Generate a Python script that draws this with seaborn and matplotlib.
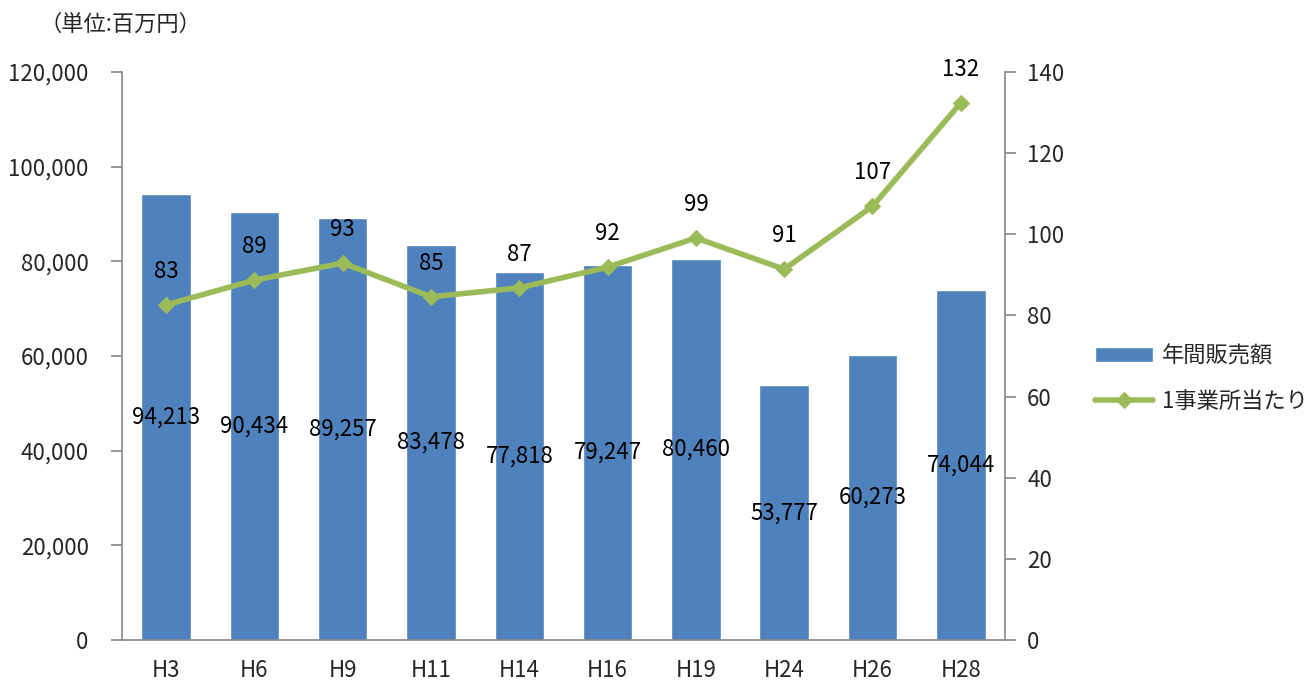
import numpy as np
import pandas as pd
import matplotlib
matplotlib.use('Agg')
import matplotlib.pyplot as plt
import seaborn as sns

# data
periods = ['H3', 'H6', 'H9', 'H11', 'H14', 'H16', 'H19', 'H24', 'H26', 'H28']
annual_sales = [94213, 90434, 89257, 83478, 77818, 79247, 80460, 53777, 60273, 74044]
per_office = [82.6, 88.7, 92.9, 84.6, 86.8, 91.9, 99.1, 91.4, 106.9, 132.4]
per_office_labels = ['83', '89', '93', '85', '87', '92', '99', '91', '107', '132']

bar_color = '#4F81BD'
line_color = '#9BBB59'
axis_color = '#868686'

sns.set_theme(style='white')
plt.rcParams['font.family'] = ['Noto Sans CJK JP', 'DejaVu Sans']

df = pd.DataFrame({'period': periods, 'sales': annual_sales, 'per_office': per_office})

fig = plt.figure(figsize=(13.14, 6.88), dpi=100)
ax = fig.add_axes([0.0928, 0.0698, 0.672, 0.8255])

sns.barplot(data=df, x='period', y='sales', color=bar_color, width=0.56,
            saturation=1, ax=ax, label='年間販売額')
ax.bar_label(ax.containers[0], labels=[f'{v:,}' for v in annual_sales],
             label_type='center', fontsize=16, color='black')

ax2 = ax.twinx()
sns.lineplot(x=np.arange(len(periods)), y=per_office, ax=ax2, color=line_color,
             linewidth=4, marker='D', markersize=8, markeredgecolor=line_color,
             label='1事業所当たり', legend=False)
for i, (v, lab) in enumerate(zip(per_office, per_office_labels)):
    ax2.annotate(lab, (i, v), xytext=(0, 24), textcoords='offset points',
                 ha='center', va='center', fontsize=16, color='black')

ax.set_ylim(0, 120000)
ax2.set_ylim(0, 140)
ax.set_xlim(-0.5, len(periods) - 0.5)
ax.set_yticks(range(0, 120001, 20000))
ax.set_yticklabels([f'{v:,}' for v in range(0, 120001, 20000)])
ax2.set_yticks(range(0, 141, 20))

ax.set_xlabel('')
ax.set_ylabel('')
ax2.set_ylabel('')

# category boundary ticks on x axis
ax.set_xticks(np.arange(-0.5, len(periods), 1), minor=True)
ax.tick_params(axis='x', which='major', length=0, pad=14, labelsize=16)
ax.tick_params(axis='x', which='minor', length=8, width=1.2, color=axis_color, direction='out')
ax.tick_params(axis='y', length=8, width=1.2, color=axis_color, direction='out', labelsize=16, pad=16)
ax2.tick_params(axis='y', length=8, width=1.2, color=axis_color, direction='out', labelsize=16, pad=8)

for a in (ax, ax2):
    for side in ['left', 'right', 'bottom', 'top']:
        a.spines[side].set_color(axis_color)
        a.spines[side].set_linewidth(1.2)
    a.spines['top'].set_visible(False)
ax.spines['right'].set_visible(False)
ax2.spines['left'].set_visible(False)
ax2.spines['bottom'].set_visible(False)

h1, l1 = ax.get_legend_handles_labels()
h2, l2 = ax2.get_legend_handles_labels()
ax.legend(h1 + h2, l1 + l2, loc='center left', bbox_to_anchor=(0.818, 0.45),
          bbox_transform=fig.transFigure, frameon=False, fontsize=16,
          handlelength=2.6, labelspacing=1.0, handletextpad=0.4)

fig.text(0.03, 0.965, '（単位:百万円）', fontsize=16, va='center', ha='left')

fig.savefig('out.png', dpi=100)
